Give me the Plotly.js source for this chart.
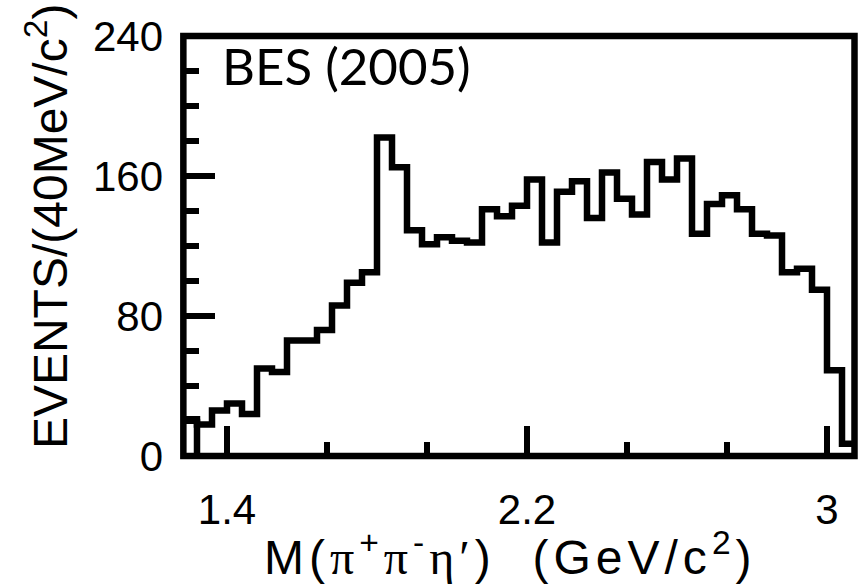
<!DOCTYPE html>
<html>
<head>
<meta charset="utf-8">
<script src="https://cdn.plot.ly/plotly-3.0.1.min.js"></script>
<style>
  html, body { margin: 0; padding: 0; background: #ffffff; }
  #chart { width: 858px; height: 585px; }
</style>
</head>
<body>
<div id="chart"></div>
<script>
// pi+ pi- eta' invariant-mass spectrum, 40 MeV/c^2 bins
const massLow = 1.28;      // GeV/c^2, lower edge of the first bin
const binWidth = 0.04;     // GeV/c^2
const events = [
  21, 18, 26, 30, 24, 50, 48, 66, 66, 72,
  86, 99, 105, 182, 165, 129, 121, 125, 123, 122,
  141, 137, 143, 158, 122, 151, 157, 136, 162, 147,
  138, 168, 158, 170, 127, 144, 149, 141, 127, 126,
  105, 107, 95, 49, 7
];

const xRange = [1.28, 3.08];
const yRange = [0, 240];
const xMajorTicks = [1.4, 2.2, 3.0];
const xMajorLabels = ['1.4', '2.2', '3'];
const xMinorTicks = [1.6667, 1.9333, 2.4667, 2.7333];
const yMajorTicks = [0, 80, 160, 240];
const yMajorLabels = ['0', '80', '160', '240'];
const yMinorTicks = [20, 40, 60, 100, 120, 140, 180, 200, 220];

// bin edges
const nBins = events.length;
const edges = [];
for (let i = 0; i <= nBins; i++) edges.push(+(massLow + i * binWidth).toFixed(4));

// step outline of the histogram
const stepX = [edges[0]];
const stepY = [0];
for (let i = 0; i < nBins; i++) { stepX.push(edges[i]); stepY.push(events[i]); }
stepX.push(edges[nBins], edges[nBins]);
stepY.push(events[nBins - 1], 0);

const INK = '#000000';
const LW = 6.5;
const sans = '"Liberation Sans", Arial, Helvetica, sans-serif';
const serifSpan = s => '<span style="font-family:\'Liberation Serif\',serif">' + s + '</span>';

const histogram = {
  type: 'scatter', mode: 'lines',
  x: stepX, y: stepY,
  line: { shape: 'hv', color: INK, width: LW },
  hoverinfo: 'skip', showlegend: false
};

// lower edge of the second bin, drawn down to the baseline
const edgeLine = {
  type: 'scatter', mode: 'lines',
  x: [edges[1], edges[1]], y: [0, events[0]],
  line: { color: INK, width: LW },
  hoverinfo: 'skip', showlegend: false
};

const layout = {
  width: 858, height: 585,
  margin: { l: 182, r: 1, t: 36, b: 128.5 },
  paper_bgcolor: '#ffffff', plot_bgcolor: '#ffffff',
  showlegend: false,
  xaxis: {
    range: xRange, showgrid: false, zeroline: false, showline: false,
    tickmode: 'array', tickvals: xMajorTicks, ticktext: xMajorLabels,
    ticks: 'inside', ticklen: 30, tickwidth: LW, tickcolor: INK,
    ticklabelstandoff: 25,
    tickfont: { family: sans, size: 42, color: INK },
    minor: { tickmode: 'array', tickvals: xMinorTicks, ticks: 'inside',
             ticklen: 14, tickwidth: LW, tickcolor: INK, showgrid: false }
  },
  yaxis: {
    range: yRange, showgrid: false, zeroline: false, showline: false,
    tickmode: 'array', tickvals: yMajorTicks, ticktext: yMajorLabels,
    ticks: 'inside', ticklen: 33, tickwidth: LW, tickcolor: INK,
    ticklabelstandoff: 18,
    tickfont: { family: sans, size: 42, color: INK },
    minor: { tickmode: 'array', tickvals: yMinorTicks, ticks: 'inside',
             ticklen: 17, tickwidth: LW, tickcolor: INK, showgrid: false }
  },
  shapes: [{
    type: 'rect', xref: 'paper', yref: 'paper',
    x0: 0.002, x1: 0.9963, y0: 0, y1: 1,
    line: { color: INK, width: LW }, fillcolor: 'rgba(0,0,0,0)', layer: 'above'
  }],
  annotations: [
    {
      text: 'BES (2005)', xref: 'paper', yref: 'paper',
      x: 0.056, y: 0.93, xanchor: 'left', yanchor: 'middle', showarrow: false,
      font: { family: 'Lato, "Open Sans", sans-serif', size: 51, color: INK }
    },
    {
      text: '<span style="letter-spacing:5px">M(' + serifSpan('π') + '<sup>+</sup>' +
            serifSpan('π') + '<sup>-</sup>' + serifSpan('η′') +
            ')  (GeV/c<sup>2</sup>)</span>',
      xref: 'paper', yref: 'paper', x: 0.487, y: -0.234,
      xanchor: 'center', yanchor: 'middle', showarrow: false,
      font: { family: sans, size: 48, color: INK }
    },
    {
      text: 'EVENTS/(40MeV/c<sup>2</sup>)',
      xref: 'paper', yref: 'paper', x: -0.2, y: 0.545, textangle: -90,
      xanchor: 'center', yanchor: 'middle', showarrow: false,
      font: { family: sans, size: 48, color: INK }
    }
  ]
};

Plotly.newPlot('chart', [histogram, edgeLine], layout, { staticPlot: true, displayModeBar: false });
</script>
</body>
</html>
